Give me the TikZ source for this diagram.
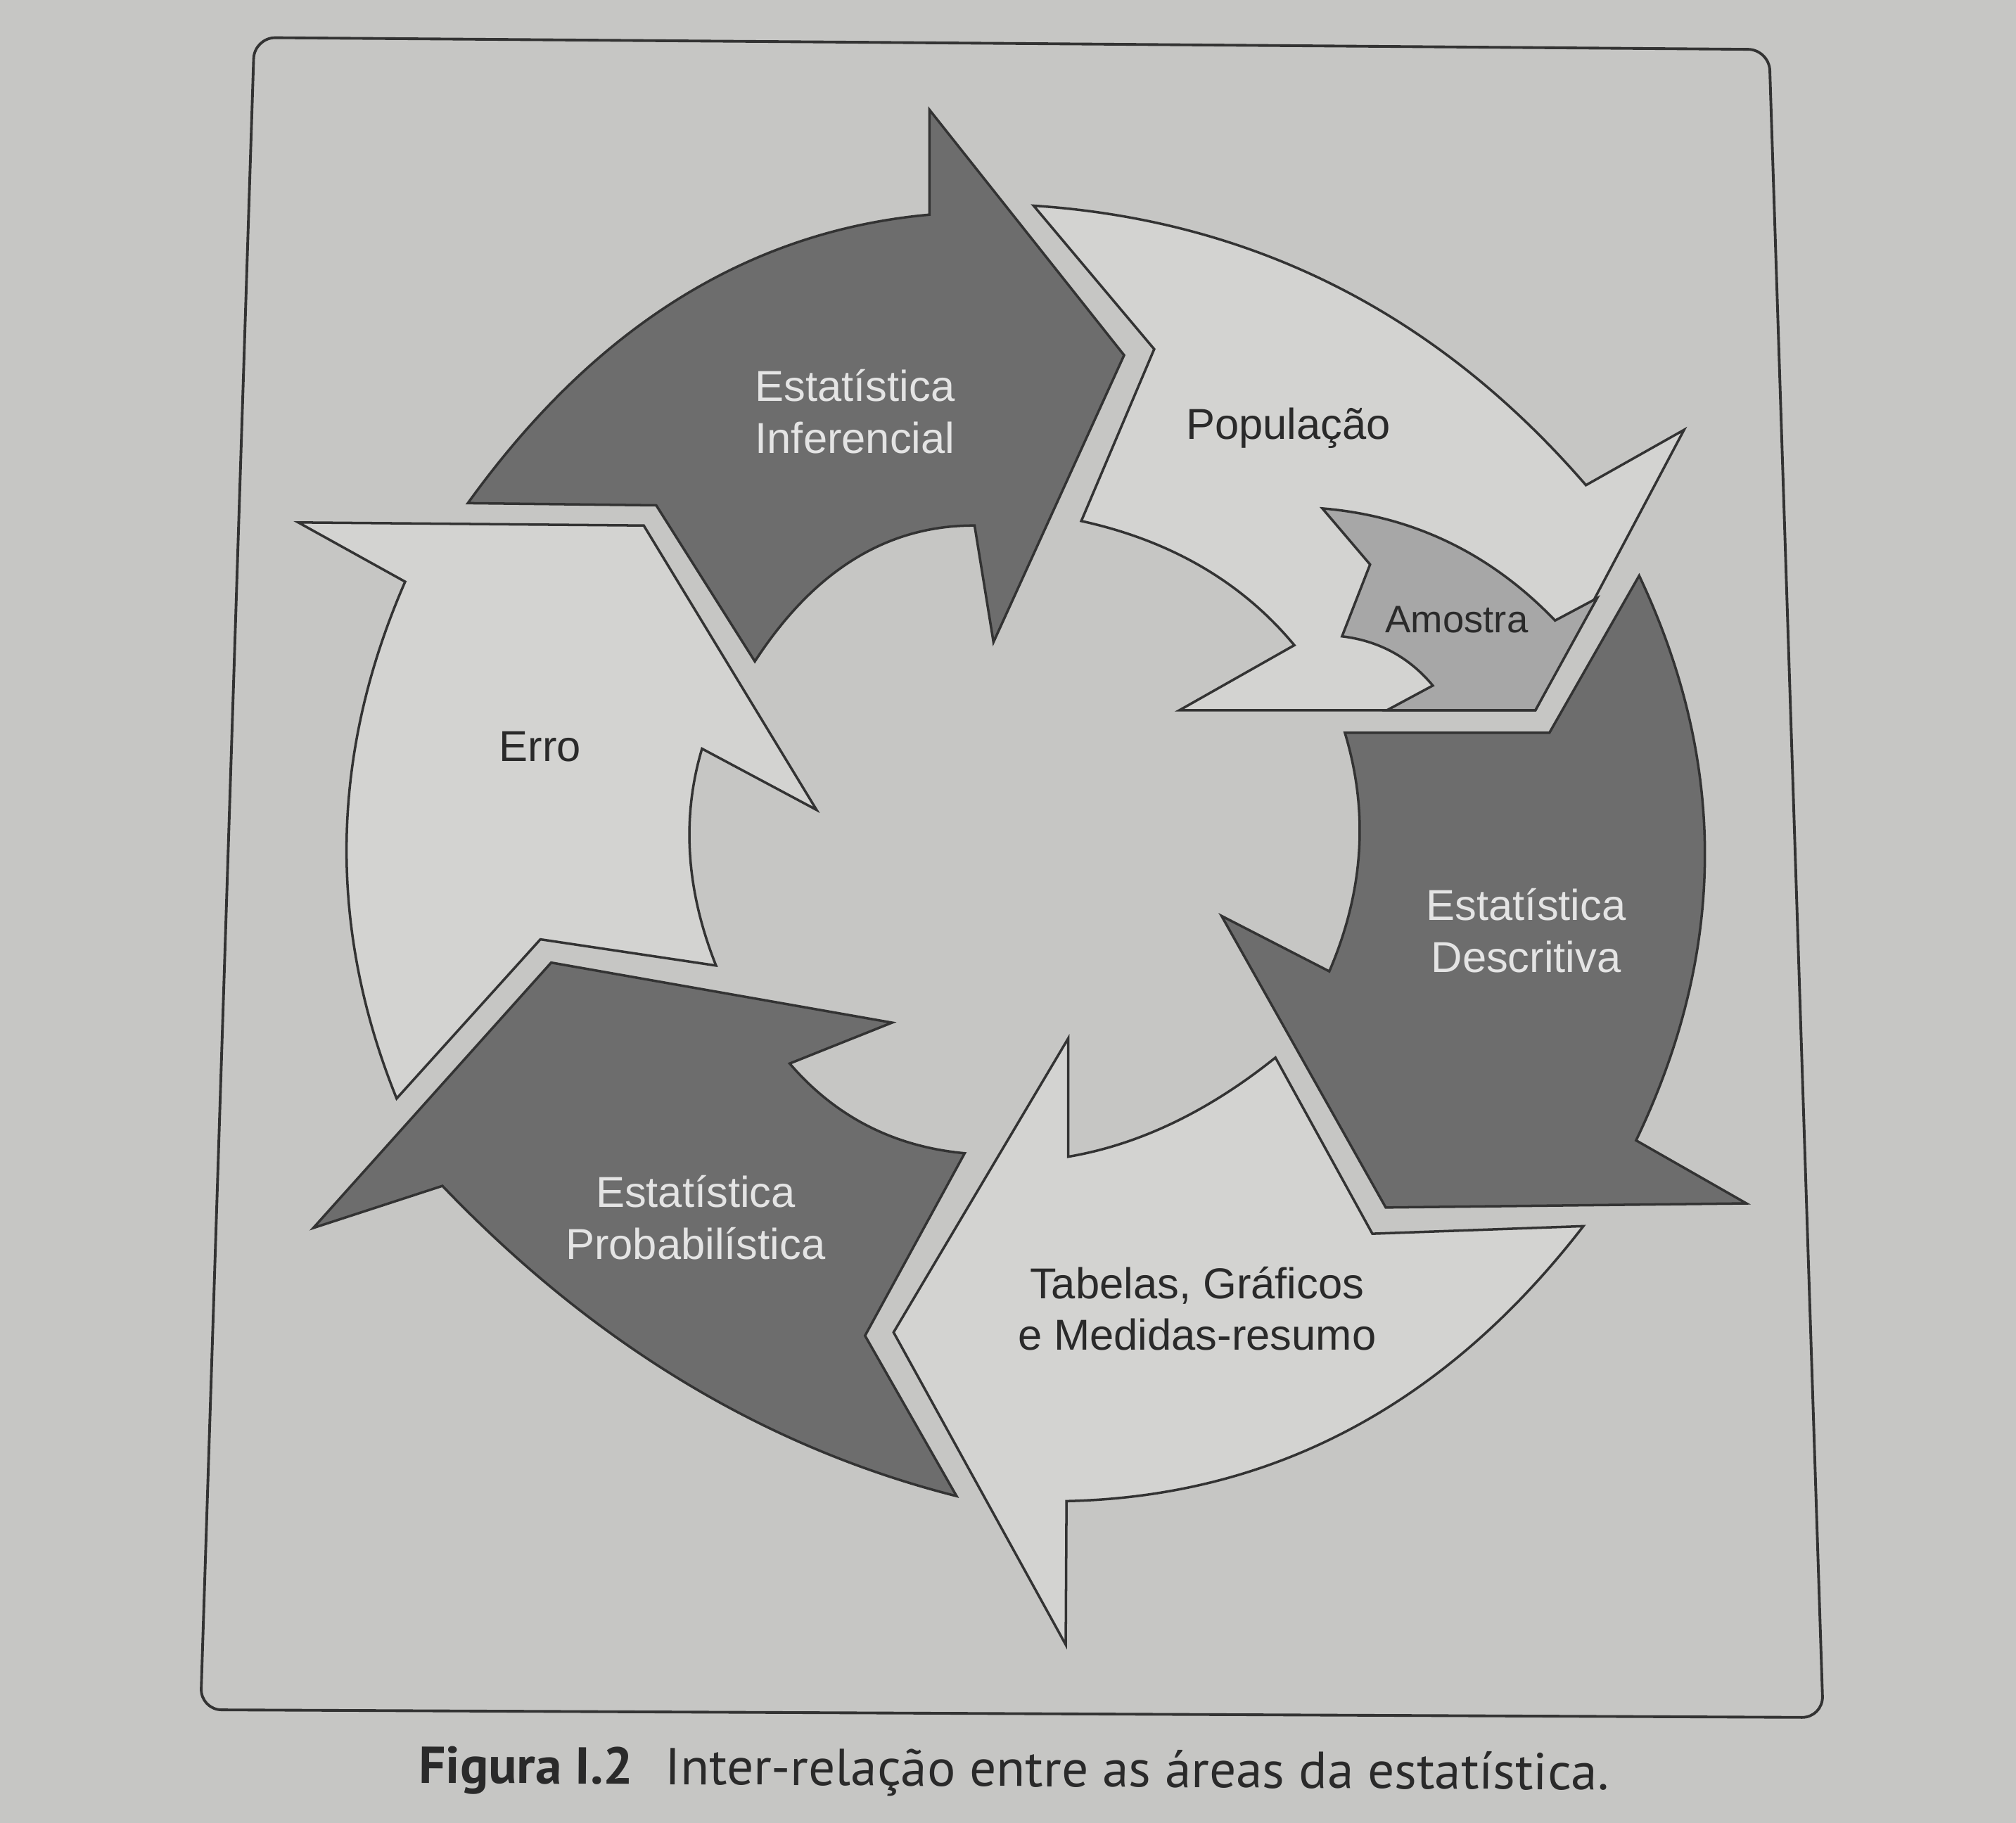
\documentclass[tikz,border=0pt]{standalone}
\usepackage{fontspec}
\setmainfont{Liberation Sans}
\newfontfamily\capfont{PT Sans}
\usetikzlibrary{calc}
\definecolor{paper}{HTML}{C6C6C4}
\definecolor{lightfill}{HTML}{D3D3D1}
\definecolor{darkfill}{HTML}{6D6D6D}
\definecolor{midfill}{HTML}{A7A7A7}
\definecolor{edgecol}{HTML}{333333}
\definecolor{lighttext}{HTML}{E4E4E4}
\definecolor{darktext}{HTML}{2A2A2A}
\tikzset{
  arrowshape/.style={draw=edgecol, line width=1pt, line join=miter},
  darkarrow/.style={arrowshape, fill=darkfill},
  lightarrow/.style={arrowshape, fill=lightfill},
  midarrow/.style={arrowshape, fill=midfill},
  framebox/.style={draw=edgecol, line width=1.1pt, rounded corners=0.3cm},
  lbl/.style={align=center, font=\fontsize{17.5}{21}\selectfont, inner sep=0pt},
  lbllight/.style={lbl, text=lighttext},
  lbldark/.style={lbl, text=darktext}
}
\begin{document}
\begin{tikzpicture}[x=0.0182781cm, y=-0.0182781cm]
\useasboundingbox (0,0) rectangle (1568,1418);
\fill[paper] (0,0) rectangle (1568,1418);

% frame
\draw[framebox] (787,33.8) -- (1376,38.5) -- (1418,1336) -- (156,1330) -- (197.8,29.2) -- cycle;

% Estatistica Inferencial
\draw[darkarrow] (363.9,391.4)
  .. controls ($(363.9,391.4)!0.6667!(511.6,186.0)$) and ($(722.9,167.0)!0.6667!(511.6,186.0)$) .. (722.9,167.0)
  -- (722.9,85.4) -- (874.3,276.3) -- (772.7,499.5) -- (758.0,408.8)
  .. controls ($(758.0,408.8)!0.6667!(656.05,408.35)$) and ($(587.1,514.5)!0.6667!(656.05,408.35)$) .. (587.1,514.5)
  -- (510.4,393.1) -- cycle;

% Populacao
\draw[lightarrow] (803.9,160.0) -- (897.7,271.6) -- (841.0,405.3)
  .. controls ($(841.0,405.3)!0.6667!(945.55,428.2)$) and ($(1006.7,501.9)!0.6667!(945.55,428.2)$) .. (1006.7,501.9)
  -- (917.3,552.5) -- (1194.2,552.5) -- (1309.8,334.4) -- (1233.5,377.4)
  .. controls ($(1233.5,377.4)!0.6667!(1060.1,176.9)$) and ($(803.9,160.0)!0.6667!(1060.1,176.9)$) .. (803.9,160.0)
  -- cycle;

% Amostra
\draw[midarrow] (1028.5,395.5) -- (1065.6,439.1) -- (1043.8,495.0)
  .. controls ($(1043.8,495.0)!0.6667!(1086.9,500.25)$) and ($(1114.4,533.3)!0.6667!(1086.9,500.25)$) .. (1114.4,533.3)
  -- (1078.7,552.5) -- (1194.2,552.5) -- (1242.2,465.3) -- (1209.5,482.7)
  .. controls ($(1209.5,482.7)!0.6667!(1134.2,404.3)$) and ($(1028.5,395.5)!0.6667!(1134.2,404.3)$) .. (1028.5,395.5)
  -- cycle;

% Estatistica Descritiva
\draw[darkarrow] (1274.9,447.8) -- (1205.1,570.0) -- (1046.0,570.0)
  .. controls ($(1046.0,570.0)!0.6667!(1074.05,662.4)$) and ($(1033.9,755.6)!0.6667!(1074.05,662.4)$) .. (1033.9,755.6)
  -- (950.1,712.5) -- (1077.8,939.3) -- (1358.3,936.1) -- (1272.5,887.1)
  .. controls ($(1272.5,887.1)!0.6667!(1378.3,666.55)$) and ($(1274.9,447.8)!0.6667!(1378.3,666.55)$) .. (1274.9,447.8)
  -- cycle;

% Tabelas
\draw[lightarrow] (1231.5,953.8) -- (1067.4,959.7) -- (992.0,822.7)
  .. controls ($(992.0,822.7)!0.6667!(913.4,885.75)$) and ($(830.8,899.8)!0.6667!(913.4,885.75)$) .. (830.8,899.8)
  -- (830.8,807.8) -- (695.0,1036.4) -- (828.9,1279.4) -- (829.5,1167.7)
  .. controls ($(829.5,1167.7)!0.6667!(1070.45,1162.45)$) and ($(1231.5,953.8)!0.6667!(1070.45,1162.45)$) .. (1231.5,953.8)
  -- cycle;

% Estatistica Probabilistica
\draw[darkarrow] (428.7,748.8) -- (693.8,795.5) -- (614.2,827.3)
  .. controls ($(614.2,827.3)!0.6667!(667.55,889.4)$) and ($(750.3,897.1)!0.6667!(667.55,889.4)$) .. (750.3,897.1)
  -- (672.8,1039.0) -- (744.0,1163.8)
  .. controls ($(744.0,1163.8)!0.6667!(521.15,1107.45)$) and ($(344.1,922.5)!0.6667!(521.15,1107.45)$) .. (344.1,922.5)
  -- (243.7,955.2) -- cycle;

% Erro
\draw[lightarrow] (232.0,406.4) -- (500.7,408.8) -- (635.1,630.0) -- (546.0,582.4)
  .. controls ($(546.0,582.4)!0.6667!(521.95,663.05)$) and ($(556.9,751.1)!0.6667!(521.95,663.05)$) .. (556.9,751.1)
  -- (420.3,730.7) -- (308.5,854.5)
  .. controls ($(308.5,854.5)!0.6667!(227.4,653.7)$) and ($(315.1,452.5)!0.6667!(227.4,653.7)$) .. (315.1,452.5)
  -- cycle;

% labels
\node[lbllight] (inf) at (665,320) {Estatística\\Inferencial};
\node[lbldark] (pop) at (1002,333) {População};
\node[lbldark, font=\fontsize{15.5}{19}\selectfont] (amo) at (1133,482) {Amostra};
\node[lbllight] (desc) at (1187,724) {Estatística\\Descritiva};
\node[lbldark] (tab) at (931,1018) {Tabelas, Gráficos\\e Medidas-resumo};
\node[lbllight] (prob) at (541,947) {Estatística\\Probabilística};
\node[lbldark] (erro) at (420,581) {Erro};

% caption
\node[anchor=base west, inner sep=0pt, text=darktext, rotate=-0.33] (cap) at (325.5,1387)
  {\resizebox{16.92cm}{0.5173cm}{\capfont\vphantom{F}\smash{\textbf{Figura I.2}\hspace{0.6em}Inter-relação entre as áreas da estatística.}}};
\end{tikzpicture}
\end{document}
